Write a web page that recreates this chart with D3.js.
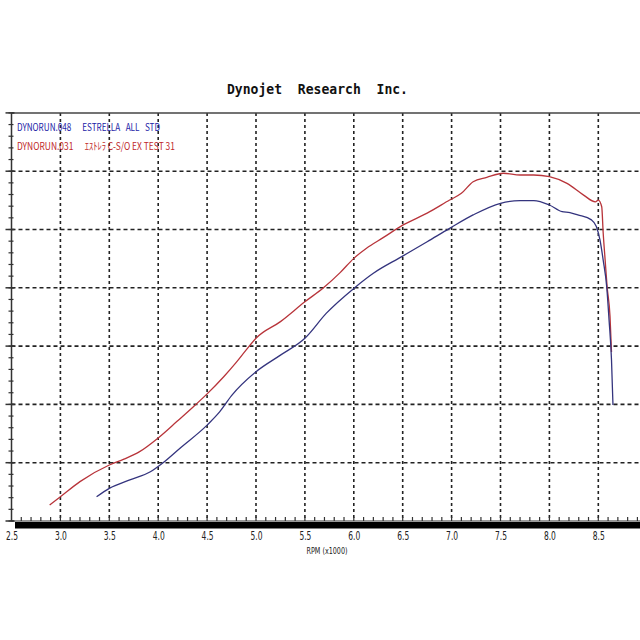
<!DOCTYPE html>
<html>
<head>
<meta charset="utf-8">
<script src="https://cdn.jsdelivr.net/npm/d3@7"></script>
<style>
html,body{margin:0;padding:0;background:#fff;}
svg{display:block;}
</style>
</head>
<body>
<svg id="c" width="640" height="640"></svg>
<script>
// ---- data ----
const titleText = "Dynojet  Research  Inc.";
const xTickValues = [2.5,3.0,3.5,4.0,4.5,5.0,5.5,6.0,6.5,7.0,7.5,8.0,8.5];
const xTickLabels = ["2.5","3.0","3.5","4.0","4.5","5.0","5.5","6.0","6.5","7.0","7.5","8.0","8.5"];
const yGridValues = [8,10,12,14,16,18];
const xAxisTitle = "RPM (x1000)";

// DYNORUN.031 (red)
const redRpm = [2.89,3.0,3.2,3.5,3.65,3.81,4.0,4.19,4.36,4.5,4.67,4.8,4.9,5.0,5.25,5.5,5.69,5.86,6.0,6.13,6.3,6.5,6.75,6.98,7.1,7.22,7.36,7.53,7.7,7.84,8.0,8.18,8.35,8.47,8.5,8.535,8.55,8.57,8.59,8.62,8.635];
const redHp  = [6.55,6.83,7.35,7.92,8.12,8.38,8.85,9.41,9.92,10.36,10.95,11.45,11.87,12.27,12.84,13.52,14.0,14.52,15.01,15.36,15.72,16.15,16.56,17.01,17.24,17.64,17.79,17.93,17.87,17.87,17.81,17.58,17.18,16.95,17.01,16.78,15.88,14.95,14.04,13.01,11.8];
// DYNORUN.048 (blue)
const blueRpm = [3.37,3.5,3.71,3.92,4.05,4.22,4.5,4.63,4.75,5.0,5.25,5.5,5.72,6.0,6.2,6.49,6.75,6.98,7.22,7.5,7.7,7.84,8.0,8.13,8.21,8.29,8.43,8.48,8.517,8.55,8.586,8.61,8.635,8.65];
const blueHp  = [6.83,7.12,7.41,7.69,8.0,8.49,9.29,9.75,10.3,11.12,11.69,12.27,13.13,13.98,14.5,15.07,15.58,16.04,16.5,16.9,16.99,16.99,16.84,16.61,16.58,16.5,16.33,16.1,15.64,14.95,14.04,12.9,11.52,9.98];

const NB = "\u00A0";
const legendLabels = [
  "DYNORUN.048" + NB.repeat(6) + "ESTRELLA" + NB.repeat(3) + "ALL" + NB.repeat(3) + "STD",
  "DYNORUN.031" + NB.repeat(6) + "ｴｽﾄﾚﾗ" + NB + "C-S/O" + NB + "EX" + NB + "TEST" + NB + "31"
];
const legendColors = ["#1c1ca6", "#c0282a"];
const legendWidths = [143, 158];

// ---- chart ----
const svg = d3.select("#c");
const x = d3.scaleLinear().domain([2.5, 9.0]).range([11.5, 11.5 + 6.5*97.8]);
const y = d3.scaleLinear().domain([6, 20]).range([521, 112.9]);
const pL = x(2.5), pR = 640, pT = y(20), pB = y(6);

svg.append("rect").attr("width",640).attr("height",640).attr("fill","#fff");

// title
svg.append("text").attr("x",227).attr("y",93.5)
  .attr("font-family","DejaVu Sans Mono, monospace").attr("font-weight","bold")
  .attr("font-size",14).attr("fill","#111")
  .attr("textLength",181).attr("lengthAdjust","spacingAndGlyphs")
  .style("white-space","pre")
  .text(titleText);

// grid
const g = svg.append("g");
g.selectAll("line.h").data(yGridValues).enter().append("line")
  .attr("x1",pL).attr("x2",pR).attr("y1",d=>y(d)).attr("y2",d=>y(d))
  .attr("stroke","#222").attr("stroke-width",1.6).attr("stroke-dasharray","4,3");
g.selectAll("line.v").data(xTickValues.filter(v=>v>2.5)).enter().append("line")
  .attr("x1",d=>x(d)).attr("x2",d=>x(d)).attr("y1",pT).attr("y2",pB)
  .attr("stroke","#222").attr("stroke-width",1.6).attr("stroke-dasharray","3,3");

// frame top
svg.append("line").attr("x1",pL).attr("x2",pR).attr("y1",pT).attr("y2",pT)
  .attr("stroke","#444").attr("stroke-width",1.5);
// left axis
svg.append("line").attr("x1",pL).attr("x2",pL).attr("y1",pT).attr("y2",pB)
  .attr("stroke","#333").attr("stroke-width",1.5);
const yMinor = d3.range(6, 20.01, 0.4);
svg.selectAll("line.ym").data(yMinor).enter().append("line")
  .attr("x1",pL-3).attr("x2",pL+2).attr("y1",d=>y(d)).attr("y2",d=>y(d))
  .attr("stroke","#333").attr("stroke-width",1.2);
svg.selectAll("line.yM").data(yGridValues.concat([6,20])).enter().append("line")
  .attr("x1",pL-6).attr("x2",pL+3).attr("y1",d=>y(d)).attr("y2",d=>y(d))
  .attr("stroke","#333").attr("stroke-width",1.5);

// bottom axis: minor ticks
const xMinor = d3.range(2.6, 9.0, 0.1);
svg.selectAll("line.xm").data(xMinor).enter().append("line")
  .attr("x1",d=>x(d)).attr("x2",d=>x(d)).attr("y1",pB-4).attr("y2",pB)
  .attr("stroke","#333").attr("stroke-width",1.2);
svg.append("line").attr("x1",pL).attr("x2",pR).attr("y1",pB).attr("y2",pB)
  .attr("stroke","#333").attr("stroke-width",1.2);
svg.append("rect").attr("x",15).attr("y",pB+1).attr("width",pR-15).attr("height",6.5).attr("fill","#000");

// x tick labels via axis
const xAxis = d3.axisBottom(x).tickValues(xTickValues).tickFormat((d,i)=>xTickLabels[i]).tickSize(0).tickPadding(0);
const ax = svg.append("g").attr("transform",`translate(0,${pB+10})`).call(xAxis);
ax.select(".domain").remove();
ax.selectAll("text").attr("font-family","Liberation Sans Narrow, DejaVu Sans, sans-serif")
  .attr("font-size",12).attr("fill","#222").attr("dy","0.72em")
  .attr("textLength",12).attr("lengthAdjust","spacingAndGlyphs");

svg.append("text").attr("x",327).attr("y",554).attr("text-anchor","middle")
  .attr("font-family","Liberation Sans Narrow, DejaVu Sans, sans-serif").attr("font-size",9.5)
  .attr("fill","#222").attr("textLength",41).attr("lengthAdjust","spacingAndGlyphs")
  .text(xAxisTitle);

// legend
legendLabels.forEach((lab,i)=>{
  svg.append("text").attr("x",17).attr("y",131 + i*18.5)
    .attr("font-family","Liberation Sans Narrow, Noto Sans CJK JP, sans-serif")
    .attr("font-size",10.5).attr("fill",legendColors[i])
    .attr("textLength",legendWidths[i]).attr("lengthAdjust","spacingAndGlyphs")
    .text(lab);
});

// curves
const line = d3.line().x(d=>x(d[0])).y(d=>y(d[1])).curve(d3.curveMonotoneX);
svg.append("path").datum(redRpm.map((r,i)=>[r,redHp[i]]))
  .attr("d",line).attr("fill","none").attr("stroke","#b8343a").attr("stroke-width",1.3);
svg.append("path").datum(blueRpm.map((r,i)=>[r,blueHp[i]]))
  .attr("d",line).attr("fill","none").attr("stroke","#34347e").attr("stroke-width",1.3);
</script>
</body>
</html>
